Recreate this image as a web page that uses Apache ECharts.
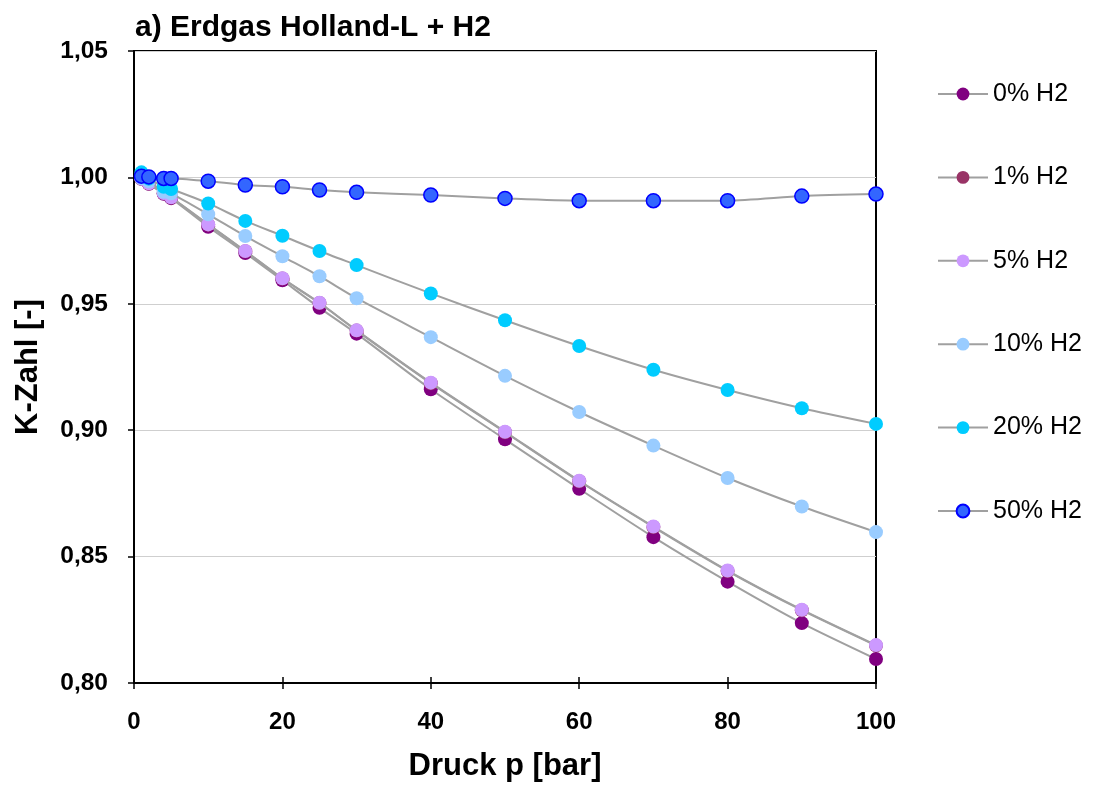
<!DOCTYPE html>
<html>
<head>
<meta charset="utf-8">
<title>K-Zahl Erdgas Holland-L + H2</title>
<script src="https://cdn.jsdelivr.net/npm/echarts@6/dist/echarts.min.js"></script>
<style>
  html, body { margin: 0; padding: 0; background: #ffffff; }
  #chart { width: 1105px; height: 786px; }
</style>
</head>
<body>
<div id="chart"></div>
<script>
// Pressure steps in bar
const pressure = [1, 2, 4, 5, 10, 15, 20, 25, 30, 40, 50, 60, 70, 80, 90, 100];

// Compressibility factor K per hydrogen fraction
const k0  = [0.9995, 0.9975, 0.9935, 0.9918, 0.9805, 0.9701, 0.9593, 0.9484, 0.9382, 0.9162, 0.8964, 0.8768, 0.8577, 0.8401, 0.8237, 0.8095];
const k1  = [0.9994, 0.9976, 0.9937, 0.9920, 0.9813, 0.9708, 0.9600, 0.9503, 0.9394, 0.9186, 0.8992, 0.8798, 0.8617, 0.8443, 0.8288, 0.8148];
const k5  = [0.9995, 0.9977, 0.9938, 0.9921, 0.9814, 0.9709, 0.9601, 0.9504, 0.9395, 0.9188, 0.8994, 0.8800, 0.8619, 0.8445, 0.8290, 0.8150];
const k10 = [0.9997, 0.9985, 0.9943, 0.9937, 0.9854, 0.9768, 0.9688, 0.9609, 0.9522, 0.9368, 0.9215, 0.9072, 0.8939, 0.8811, 0.8698, 0.8597];
const k20 = [1.0020, 0.9995, 0.9963, 0.9954, 0.9897, 0.9828, 0.9769, 0.9709, 0.9653, 0.9541, 0.9435, 0.9333, 0.9239, 0.9159, 0.9087, 0.9025];
const k50 = [1.0005, 1.0002, 0.9996, 0.9996, 0.9985, 0.9970, 0.9963, 0.9950, 0.9941, 0.9930, 0.9917, 0.9908, 0.9908, 0.9908, 0.9926, 0.9934];

const seriesNames = ['0% H2', '1% H2', '5% H2', '10% H2', '20% H2', '50% H2'];
const seriesValues = [k0, k1, k5, k10, k20, k50];
const markerColors = ['#800080', '#993366', '#CC99FF', '#99CCFF', '#00CCFF', '#3366FF'];

const xTicks = [0, 20, 40, 60, 80, 100];
const yTicks = [0.80, 0.85, 0.90, 0.95, 1.00, 1.05];

const FONT = '"Liberation Sans", Arial, Helvetica, sans-serif';

const chart = echarts.init(document.getElementById('chart'), null, { renderer: 'canvas' });

const series = seriesNames.map((name, i) => ({
  name: name,
  type: 'line',
  xAxisIndex: 0,
  yAxisIndex: 0,
  data: pressure.map((p, j) => [p, seriesValues[i][j]]),
  smooth: 0.25,
  symbol: 'circle',
  symbolSize: 14,
  showSymbol: true,
  lineStyle: { color: '#A0A0A0', width: 2 },
  itemStyle: i === 5
    ? { color: markerColors[i], borderColor: '#0000FF', borderWidth: 1.5 }
    : { color: markerColors[i], borderWidth: 0 },
  emphasis: { disabled: true },
  animation: false,
  z: 2 + i
}));

const option = {
  backgroundColor: '#ffffff',
  animation: false,
  title: {
    text: 'a) Erdgas Holland-L + H2',
    left: 135,
    top: 13,
    padding: [0, 0, 0, 0],
    textStyle: { fontFamily: FONT, fontSize: 30, fontWeight: 'bold', color: '#000' }
  },
  grid: {
    left: 134, right: 229, top: 51, bottom: 103,
    outerBoundsMode: 'none',
    containLabel: false,
    show: true,
    borderColor: '#000',
    borderWidth: 2,
    backgroundColor: '#ffffff'
  },
  legend: {
    orient: 'vertical',
    left: 937,
    top: 79,
    padding: 0,
    itemWidth: 50,
    itemHeight: 16,
    itemGap: 53.4,
    textStyle: { fontFamily: FONT, fontSize: 25, color: '#000', lineHeight: 30 },
    data: seriesNames,
    selectedMode: false
  },
  xAxis: [
    {
      type: 'value',
      min: 0, max: 100, interval: 20,
      name: 'Druck p [bar]',
      nameLocation: 'middle',
      nameGap: 68,
      nameTextStyle: { fontFamily: FONT, fontSize: 31, fontWeight: 'bold', color: '#000' },
      axisLine: { show: true, lineStyle: { color: '#000', width: 2 } },
      axisTick: { show: true, inside: false, length: 6, lineStyle: { color: '#000', width: 1.5 } },
      axisLabel: {
        fontFamily: FONT, fontSize: 24, fontWeight: 'bold', color: '#000', margin: 27,
        customValues: xTicks
      },
      splitLine: { show: false }
    },
    {
      // inner half of the crossing x ticks
      type: 'value',
      min: 0, max: 100, interval: 20,
      position: 'bottom',
      axisLine: { show: false },
      axisTick: { show: true, inside: true, length: 6, lineStyle: { color: '#000', width: 1.5 } },
      axisLabel: { show: false },
      splitLine: { show: false }
    }
  ],
  yAxis: {
    type: 'value',
    min: 0.80, max: 1.05, interval: 0.05,
    name: 'K-Zahl [-]',
    nameLocation: 'middle',
    nameGap: 90,
    nameRotate: 90,
    nameTextStyle: { fontFamily: FONT, fontSize: 31, fontWeight: 'bold', color: '#000' },
    axisLine: { show: true, lineStyle: { color: '#000', width: 2 } },
    axisTick: { show: true, inside: false, length: 6, lineStyle: { color: '#000', width: 1.5 } },
    axisLabel: {
      fontFamily: FONT, fontSize: 24.5, fontWeight: 'bold', color: '#000', margin: 26,
      formatter: v => {
        const t = yTicks.find(y => Math.abs(y - v) < 1e-6);
        return (t !== undefined ? t : v).toFixed(2).replace('.', ',');
      }
    },
    splitLine: { show: true, lineStyle: { color: '#CFCFCF', width: 1 } }
  },
  series: series
};

chart.setOption(option);
</script>
</body>
</html>
